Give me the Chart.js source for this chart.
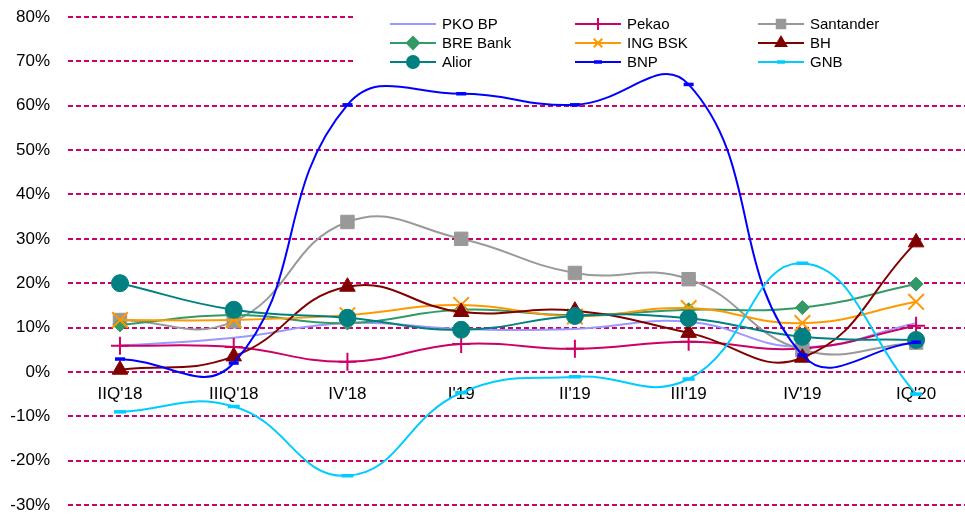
<!DOCTYPE html>
<html>
<head>
<meta charset="utf-8">
<script src="https://cdn.jsdelivr.net/npm/chart.js@4"></script>
<style>
    html, body { margin: 0; padding: 0; background: #fff; }
    #wrap { position: relative; width: 965px; height: 517px; }
</style>
</head>
<body>
<div id="wrap"><canvas id="chart" width="965" height="517"></canvas></div>
<script>
const categories = ["IIQ'18", "IIIQ'18", "IV'18", "I'19", "II'19", "III'19", "IV'19", "IQ'20"];

const pkoBp    = [5.9, 7.7, 11.0, 9.7, 9.7, 11.3, 5.6, 11.0];
const pekao    = [5.9, 5.6, 2.3, 6.3, 5.2, 6.8, 5.3, 10.4];
const santander = [11.7, 11.4, 33.8, 30.0, 22.3, 20.9, 5.0, 6.6];
const breBank  = [10.6, 12.8, 11.0, 14.0, 12.8, 14.0, 14.5, 19.8];
const ingBsk   = [11.7, 11.7, 12.8, 15.1, 12.5, 14.4, 11.0, 15.8];
const bh       = [0.5, 3.5, 19.2, 13.5, 13.8, 8.8, 3.2, 29.2];
const alior    = [20.0, 14.0, 12.2, 9.5, 12.6, 12.1, 7.9, 7.2];
const bnp      = [2.9, 2.0, 60.2, 62.7, 60.2, 64.8, 3.8, 6.7];
const gnb      = [-9.0, -7.8, -23.4, -4.7, -1.1, -1.6, 24.5, -5.0];

const yTicks = [80, 70, 60, 50, 40, 30, 20, 10, 0, -10, -20, -30];

const series = [
    { label: 'PKO BP', data: pkoBp, color: '#9999FF', style: false, radius: 0 },
    { label: 'Pekao', data: pekao, color: '#CC0066', style: 'cross', radius: 9 },
    { label: 'Santander', data: santander, color: '#999999', style: 'rect', radius: 9.5 },
    { label: 'BRE Bank', data: breBank, color: '#339966', style: 'rectRot', radius: 7 },
    { label: 'ING BSK', data: ingBsk, color: '#FF9900', style: 'crossRot', radius: 11 },
    { label: 'BH', data: bh, color: '#800000', style: 'triangle', radius: 9 },
    { label: 'Alior', data: alior, color: '#008080', style: 'circle', radius: 8.5 },
    { label: 'BNP', data: bnp, color: '#0000FF', style: 'line', radius: 5 },
    { label: 'GNB', data: gnb, color: '#00CCFF', style: 'line', radius: 6 }
];

const FONT = '"Liberation Sans", Arial, sans-serif';

function isFilled(style) {
    return style === 'rect' || style === 'rectRot' || style === 'triangle' || style === 'circle';
}

const datasets = series.map((s, i) => ({
    label: s.label,
    data: s.data.map((v, k) => ({ x: k, y: v })),
    borderColor: s.color,
    backgroundColor: s.color,
    borderWidth: 2,
    tension: 0.45,
    pointStyle: s.style,
    pointRadius: s.radius,
    pointBorderWidth: s.style === 'line' ? 3.5 : (isFilled(s.style) ? 1 : 2),
    pointBackgroundColor: s.color,
    pointBorderColor: s.color,
    order: series.length - i
}));

// legend drawn on a white box, three columns
const legendBox = {
    id: 'legendBox',
    afterDraw(chart) {
        const ctx = chart.ctx;
        ctx.save();
        ctx.fillStyle = '#fff';
        ctx.fillRect(354, 0, 611, 70);
        const cols = [390, 575, 758];
        const rows = [24, 43, 62];
        ctx.font = '15px ' + FONT;
        ctx.textBaseline = 'middle';
        series.forEach((s, i) => {
            const x = cols[i % 3];
            const y = rows[Math.floor(i / 3)];
            ctx.strokeStyle = s.color;
            ctx.lineWidth = 2;
            ctx.beginPath();
            ctx.moveTo(x, y);
            ctx.lineTo(x + 46, y);
            ctx.stroke();
            if (s.style) {
                ctx.fillStyle = s.color;
                ctx.lineWidth = s.style === 'line' ? 3.5 : 2;
                Chart.helpers.drawPoint(ctx, {
                    pointStyle: s.style,
                    radius: s.style === 'line' ? 4 : Math.min(s.radius, 6),
                    rotation: 0,
                    borderWidth: ctx.lineWidth
                }, x + 23, y);
            }
            ctx.fillStyle = '#000';
            ctx.fillText(s.label, x + 52, y + 1);
        });
        ctx.restore();
    }
};

function noPadding(scale) {
    scale.paddingTop = 0;
    scale.paddingBottom = 0;
    scale.paddingLeft = 0;
    scale.paddingRight = 0;
}

new Chart(document.getElementById('chart'), {
    type: 'line',
    data: { datasets },
    plugins: [legendBox],
    options: {
        responsive: false,
        animation: false,
        layout: { autoPadding: false, padding: { top: 17, bottom: 12, left: 0, right: 0 } },
        plugins: {
            legend: { display: false },
            tooltip: { enabled: false }
        },
        scales: {
            x: {
                type: 'linear',
                position: { y: 0 },
                min: -0.457,
                max: 7.43,
                afterBuildTicks: (scale) => {
                    scale.ticks = categories.map((c, i) => ({ value: i }));
                },
                afterFit: noPadding,
                ticks: {
                    autoSkip: false,
                    maxRotation: 0,
                    padding: 4,
                    color: '#000',
                    font: { family: FONT, size: 17 },
                    callback: (v) => categories[v]
                },
                grid: { display: false },
                border: { display: false }
            },
            y: {
                min: -30,
                max: 80,
                afterBuildTicks: (scale) => {
                    scale.ticks = yTicks.map(v => ({ value: v }));
                },
                afterFit: (scale) => { scale.width = 68; noPadding(scale); },
                ticks: {
                    padding: 18,
                    color: '#000',
                    font: { family: FONT, size: 17 },
                    callback: (v) => v + '%'
                },
                grid: {
                    color: '#CC0066',
                    lineWidth: 2,
                    drawTicks: false
                },
                border: { display: false, dash: [5, 3] }
            }
        }
    }
});
</script>
</body>
</html>
